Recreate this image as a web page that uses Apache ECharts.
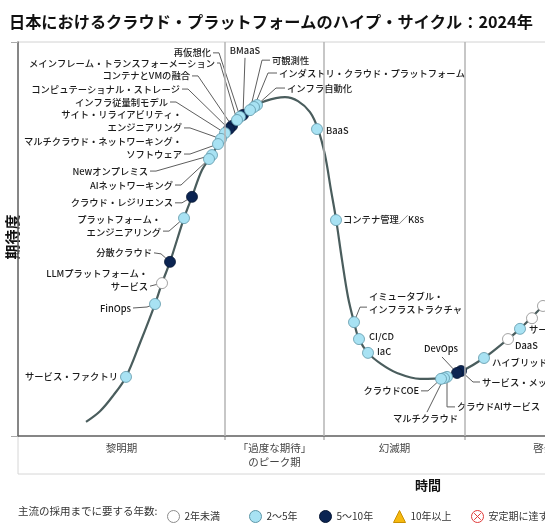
<!DOCTYPE html>
<html><head><meta charset="utf-8">
<script src="https://cdn.jsdelivr.net/npm/echarts@6/dist/echarts.min.js"></script>
<style>html,body{margin:0;padding:0;overflow:hidden;background:#fff;width:545px;height:523px}#main{width:800px;height:523px}</style>
</head><body><div id="main"></div>
<script>
const FONT = '"Noto Sans CJK JP","Noto Sans",sans-serif';

// ---- data ----
const titleText = '日本におけるクラウド・プラットフォームのハイプ・サイクル：2024年';
const yearCats = ['2年未満', '2〜5年', '5〜10年', '10年以上', '安定期に達する前に陳腐化'];
const phaseNames = ['黎明期', '「過度な期待」\nのピーク期', '幻滅期', '啓発期', '生産性の安定期'];
const phaseBounds = [0, 41.4, 61.2, 89.4, 123.0, 150];

// hype cycle curve (time, expectation)
const curveX = [13.6,16.4,19.0,21.6,24.4,27.4,28.8,30.4,33.2,34.8,36.8,38.8,40.4,42.0,44.4,46.8,49.4,53.4,56.0,58.4,60.0,61.4,62.6,63.6,64.8,66.0,67.2,68.2,70.0,72.6,75.8,80.4,85.4,88.4,93.2,98.0,100.4,102.8,105.0,108.4,112.4];
const curveY = [3.6,6.3,10.2,15.0,23.6,33.5,38.8,44.2,55.3,60.7,67.5,71.3,74.9,77.4,81.0,83.2,85.0,86.0,85.0,82.2,77.9,71.3,62.4,55.1,44.7,35.3,28.9,24.6,21.1,18.3,16.0,14.5,14.7,16.2,19.8,24.6,27.2,30.2,33.0,36.5,40.4];

const techNames = ['サービス・ファクトリ','FinOps','LLMプラットフォーム・\nサービス','分散クラウド','プラットフォーム・\nエンジニアリング','クラウド・レジリエンス','AIネットワーキング','Newオンプレミス','マルチクラウド・ネットワーキング・\nソフトウェア','サイト・リライアビリティ・\nエンジニアリング','インフラ従量制モデル','コンピュテーショナル・ストレージ','コンテナとVMの融合','メインフレーム・トランスフォーメーション','再仮想化','BMaaS','可観測性','インダストリ・クラウド・プラットフォーム','インフラ自動化','BaaS','コンテナ管理／K8s','イミュータブル・\nインフラストラクチャ','CI/CD','IaC','クラウドCOE','マルチクラウド','クラウドAIサービス','DevOps','サービス・メッシュ','ハイブリッド・クラウド','DaaS','サーバーレス','ソブリン・クラウド','マネージド・サービス'];
const techX = [21.6,27.4,28.8,30.4,33.2,34.8,38.2,38.8,40.0,40.6,41.4,42.2,42.8,43.8,44.4,45.0,46.4,47.2,47.8,59.8,63.6,67.2,68.2,70.0,84.6,85.2,85.8,87.8,88.6,93.2,98.0,100.4,102.8,105.0];
const techY = [15.0,33.5,38.8,44.2,55.3,60.7,70.3,71.3,74.1,75.4,76.9,77.9,78.7,80.2,81.0,81.5,82.7,83.5,84.0,77.9,54.8,28.9,24.6,21.1,14.5,14.7,15.0,16.0,16.5,19.8,24.6,27.2,29.9,33.0];
const techCat = [1,1,0,2,1,2,1,1,1,1,1,2,2,1,1,2,1,1,1,1,1,1,1,1,1,1,1,2,2,1,0,1,0,0];

// ---- label layout (pixel offsets from the mark) ----
const labelLayout = [
 {t:[-8,0],a:'right'},
 {t:[-24,4],a:'right',l:[[-22,4],[-8,3]]},
 {t:[-14,3],a:'right',l:[[-12,3],[-8,2]]},
 {t:[-18,-9],a:'right',l:[[-16,-9],[-9,-8]]},
 {t:[-23,14],a:'right',l:[[-21,13],[-15,13]]},
 {t:[-19,6],a:'right',l:[[-17,6],[-10,6]]},
 {t:[-36,26],a:'right',l:[[-34,26],[-28,26]]},
 {t:[-64,16],a:'right',l:[[-62,16],[-56,16]]},
 {t:[-36,10],a:'right',l:[[-34,10],[-28,10]]},
 {t:[-39,-11],a:'right',l:[[-37,-11],[-31,-11]]},
 {t:[-57,-31],a:'right',l:[[-55,-31],[-49,-31]]},
 {t:[-49,-40],a:'right',l:[[-47,-40],[-41,-40]]},
 {t:[-42,-50],a:'right',l:[[-40,-50],[-34,-50]]},
 {t:[-22,-57],a:'right',l:[[-20,-57],[-17,-57]]},
 {t:[-29,-64],a:'right',l:[[-27,-64],[-21,-64]]},
 {t:[2,-64],a:'center',l:[[2,-57]]},
 {t:[22,-50],a:'left',l:[[20,-50],[12,-50]]},
 {t:[25,-34],a:'left',l:[[23,-34],[14,-34]]},
 {t:[30,-17],a:'left',l:[[28,-17],[19,-17]]},
 {t:[9,1],a:'left'},
 {t:[7,-1],a:'left'},
 {t:[15,-13],a:'left',l:[[13,-15],[6,-15]]},
 {t:[10,-3],a:'left'},
 {t:[9,-1],a:'left'},
 {t:[-22,12],a:'right',l:[[-20,12],[-13,12]]},
 {t:[14,40],a:'right',l:[[-17,34]]},
 {t:[10,30],a:'left',l:[[8,30],[0,30]]},
 {t:[-16,-24],a:'center',l:[[-15,-16]]},
 {t:[21,11],a:'left',l:[[19,11],[12,11]]},
 {t:[8,4],a:'left'},
 {t:[7,6],a:'left'},
 {t:[9,1],a:'left'},
 {t:[13,0],a:'left'},
 {t:[10,0],a:'left'}
];

const catStyles = [
 {color:'#ffffff', borderColor:'#8c8c8c'},
 {color:'#a8e2f3', borderColor:'#5e97a8'},
 {color:'#0b2452', borderColor:'#061633'},
 {color:'#f6b90f', borderColor:'#c98f00'},
 {color:'#ffffff', borderColor:'#e03a3a'}
];
const catIcons = ['circle','circle','circle','triangle','path://M0,10A10,10,0,1,0,20,10A10,10,0,1,0,0,10ZM4.5,4.5L15.5,15.5M15.5,4.5L4.5,15.5'];
const legendCenters = [168, 250, 320, 394, 472];
const drawOrder = [0, 2, 1, 3, 4];

const chart = echarts.init(document.getElementById('main'));

const pointSeries = drawOrder.map(ci => {
  const idxs = techNames.map((_, i) => i).filter(i => techCat[i] === ci).sort((a, b) => techX[b] - techX[a]);
  return {
    type: 'scatter', name: yearCats[ci], symbol: 'circle', symbolSize: 11, z: 4, silent: true,
    itemStyle: Object.assign({borderWidth: 0.8, opacity: 1}, catStyles[ci]),
    data: idxs.map(i => [techX[i], techY[i]])
  };
});

const labelSeries = {
  type: 'custom', z: 3, silent: true, clip: false,
  data: techNames.map((n, i) => [techX[i], techY[i], i]),
  encode: {x: 0, y: 1},
  renderItem: function (params, api) {
    const i = api.value(2);
    const p = api.coord([api.value(0), api.value(1)]);
    const L = labelLayout[i];
    const children = [];
    if (L.l) {
      const pts = L.l.map(o => [p[0] + o[0], p[1] + o[1]]);
      const last = pts[pts.length - 1];
      const dx = p[0] - last[0], dy = p[1] - last[1];
      const d = Math.hypot(dx, dy) || 1;
      pts.push([p[0] - dx / d * 5.5, p[1] - dy / d * 5.5]);
      children.push({type: 'polyline', shape: {points: pts}, style: {stroke: '#5e5e5e', fill: null, lineWidth: 1}});
    }
    children.push({type: 'text', x: p[0] + L.t[0], y: p[1] + L.t[1] + 6.5,
      style: {text: techNames[i], align: L.a, verticalAlign: 'bottom', fontSize: 9.3, fontWeight: 500, lineHeight: 13, fontFamily: FONT, fill: '#1a1a1a'}});
    return {type: 'group', children: children};
  }
};

const option = {
  animation: false,
  backgroundColor: '#fff',
  title: {text: titleText, left: 4, top: 9, textStyle: {fontSize: 16.2, fontWeight: 'bold', color: '#111', fontFamily: FONT}},
  grid: {left: 18, top: 42, width: 750, height: 394, show: true, borderColor: '#d2d2d2', borderWidth: 1},
  xAxis: {type: 'value', min: 0, max: 150, axisLine: {show: true, onZero: false, lineStyle: {color: '#666', width: 1.5}}, axisTick: {show: false}, axisLabel: {show: false}, splitLine: {show: false}},
  yAxis: [
    {type: 'value', min: 0, max: 100, axisLine: {show: true, onZero: false, lineStyle: {color: '#666', width: 1.5}}, axisTick: {show: false}, axisLabel: {show: false}, splitLine: {show: false}},
    {type: 'value', min: 0, max: 100, interval: 100, position: 'left', offset: 7, axisLine: {show: false}, axisTick: {show: true, length: 7, lineStyle: {color: '#aaa'}}, axisLabel: {show: false}, splitLine: {show: false}}
  ],
  legend: yearCats.map((c, i) => ({
    data: [{name: c, icon: catIcons[i], itemStyle: Object.assign({borderWidth: 1}, catStyles[i])}],
    left: legendCenters[i] - 6, top: 505, itemWidth: 12, itemHeight: 12, selectedMode: false,
    textStyle: {fontSize: 10, color: '#333', fontFamily: FONT}
  })),
  series: [
    {type: 'line', name: 'curve', data: curveX.map((x, i) => [x, curveY[i]]), smooth: 0.35, symbol: 'none', silent: true, z: 2,
     lineStyle: {color: '#4a5d5d', width: 2.2},
     markLine: {silent: true, symbol: 'none', label: {show: false}, lineStyle: {color: '#b5b5b5', width: 1.5, type: 'solid'},
       data: phaseBounds.slice(1, -1).map(v => ({xAxis: v}))}},
    labelSeries
  ].concat(pointSeries)
};
chart.setOption(option);

// decorations placed from the axes' own scale
const p0 = chart.convertToPixel({xAxisIndex: 0, yAxisIndex: 0}, [0, 0]);
const pTop = chart.convertToPixel({xAxisIndex: 0, yAxisIndex: 0}, [0, 100]);
const xEnd = chart.convertToPixel({xAxisIndex: 0}, 150);
const bandBottom = p0[1] + 38;
const g = [];
g.push({type: 'line', shape: {x1: p0[0], y1: p0[1], x2: p0[0], y2: bandBottom}, style: {stroke: '#d6d6d6', lineWidth: 1}});
g.push({type: 'line', shape: {x1: p0[0], y1: bandBottom, x2: xEnd, y2: bandBottom}, style: {stroke: '#d6d6d6', lineWidth: 1}});
phaseBounds.slice(1, -1).forEach(b => {
  const x = chart.convertToPixel({xAxisIndex: 0}, b);
  g.push({type: 'line', shape: {x1: x, y1: p0[1], x2: x, y2: p0[1] + 4}, style: {stroke: '#b5b5b5', lineWidth: 1.5}});
});
phaseNames.forEach((n, i) => {
  const xc = chart.convertToPixel({xAxisIndex: 0}, (phaseBounds[i] + phaseBounds[i + 1]) / 2);
  g.push({type: 'text', x: xc, y: p0[1] + 5, style: {text: n, align: 'center', verticalAlign: 'top', fontSize: 10.5, lineHeight: 14, fill: '#444', fontFamily: FONT}});
});
g.push({type: 'text', x: 12, y: (p0[1] + pTop[1]) / 2 - 2, rotation: Math.PI / 2,
  style: {text: '期待度', align: 'center', verticalAlign: 'middle', fontSize: 15, fontWeight: 'bold', fill: '#111', fontFamily: FONT}});
g.push({type: 'text', x: 428, y: 485, style: {text: '時間', align: 'center', verticalAlign: 'middle', fontSize: 13, fontWeight: 'bold', fill: '#111', fontFamily: FONT}});
g.push({type: 'text', x: 18, y: 511, style: {text: '主流の採用までに要する年数:', align: 'left', verticalAlign: 'middle', fontSize: 10.5, fill: '#333', fontFamily: FONT}});
chart.setOption({graphic: g});
</script></body></html>
